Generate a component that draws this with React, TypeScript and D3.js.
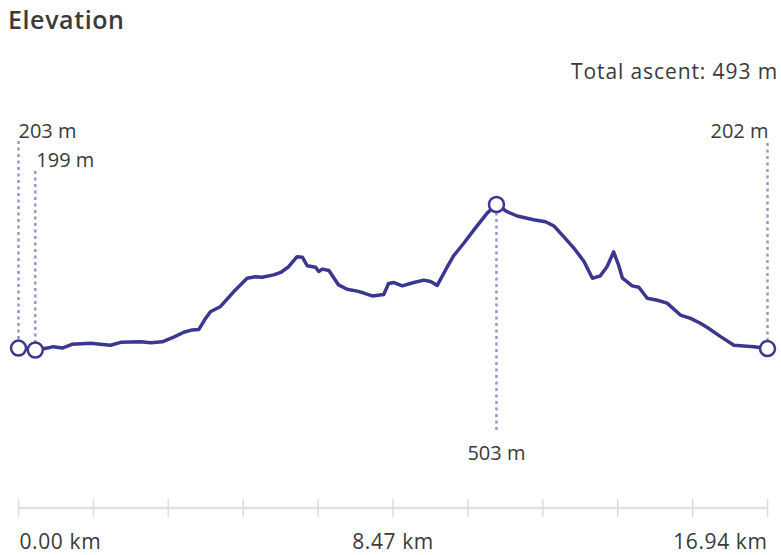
import { useRef, useEffect } from 'react';
import * as d3 from 'd3';

// elevation profile
const distanceKm = [
  0, 0.38, 0.65, 0.79, 0.99, 1.21, 1.63, 2.08, 2.31, 2.76, 2.99, 3.25, 3.51, 3.74, 3.93, 4.08,
  4.23, 4.34, 4.57, 4.87, 4.98, 5.17, 5.36, 5.51, 5.77, 5.93, 6.11, 6.3, 6.42, 6.53, 6.72, 6.79,
  6.87, 7.02, 7.24, 7.43, 7.66, 7.81, 8.0, 8.26, 8.37, 8.49, 8.68, 8.94, 9.17, 9.32, 9.47, 9.7,
  9.85, 10.07, 10.3, 10.6, 10.81, 11.05, 11.28, 11.65, 11.92, 12.11, 12.33, 12.56, 12.79, 12.98,
  13.16, 13.31, 13.46, 13.57, 13.66, 13.76, 13.88, 14.03, 14.22, 14.45, 14.67, 14.97, 15.2,
  15.42, 15.58, 15.88, 16.18, 16.63, 16.94,
];
const elevationM = [
  203, 199, 203, 206, 203, 211, 213, 209, 215, 216, 214, 216, 226, 236, 241, 242,
  265, 279, 290, 321, 331, 349, 352, 351, 356, 361, 373, 394, 393, 375, 372, 363,
  368, 365, 335, 326, 322, 318, 312, 315, 338, 340, 333, 340, 345, 342, 334, 373,
  397, 422, 450, 485, 503, 488, 479, 471, 467, 458, 436, 412, 384, 349,
  354, 373, 404, 377, 349, 342, 333, 330, 307, 303, 297, 272, 265,
  255, 246, 227, 209, 206, 202,
];
const totalAscentM = 493;
const axisLabelKm = ['0.00', '8.47', '16.94'];
const axisTickCount = 11;

const W = 781;
const H = 555;
const LINE = '#3b3790';
const DOT = '#9a96cc';
const TEXT = '#3a3a3a';
const FONT = "'Open Sans', sans-serif";

const App = () => {
  const svgRef = useRef<SVGSVGElement>(null);

  useEffect(() => {
    if (!svgRef.current) return;
    const svg = d3.select(svgRef.current);
    svg.selectAll('*').remove();

    const x = d3.scaleLinear().domain([0, d3.max(distanceKm)!]).range([18.5, 767.5]);
    const y = d3
      .scaleLinear()
      .domain([d3.min(elevationM)!, d3.max(elevationM)!])
      .range([350, 204.5]);

    const pts = distanceKm.map((d, i) => ({ d, e: elevationM[i] }));

    svg
      .append('text')
      .attr('x', 8)
      .attr('y', 29)
      .attr('font-family', FONT)
      .attr('font-weight', 600)
      .attr('font-size', 25)
      .attr('letter-spacing', 0.6)
      .attr('fill', TEXT)
      .text('Elevation');

    svg
      .append('text')
      .attr('x', 778)
      .attr('y', 79)
      .attr('text-anchor', 'end')
      .attr('font-family', FONT)
      .attr('font-size', 21)
      .attr('letter-spacing', 0.9)
      .attr('fill', TEXT)
      .text(`Total ascent: ${totalAscentM} m`);

    // markers: start, lowest, highest, end
    const iMin = d3.minIndex(elevationM);
    const iMax = d3.maxIndex(elevationM);
    const markers = [
      { i: 0, labelY: 138, lineTop: 141, anchor: 'start', dx: 0, below: false },
      { i: iMin, labelY: 167, lineTop: 171, anchor: 'start', dx: 1, below: false },
      { i: distanceKm.length - 1, labelY: 138, lineTop: 143, anchor: 'end', dx: 1, below: false },
      { i: iMax, labelY: 460, lineTop: 432, anchor: 'middle', dx: 0, below: true },
    ];

    const mg = svg.append('g');
    markers.forEach((m) => {
      const px = x(distanceKm[m.i]);
      const py = y(elevationM[m.i]);
      mg.append('line')
        .attr('x1', px)
        .attr('x2', px)
        .attr('y1', m.below ? py + 8 : m.lineTop)
        .attr('y2', m.below ? m.lineTop : py - 8)
        .attr('stroke', DOT)
        .attr('stroke-width', 2.5)
        .attr('stroke-dasharray', '3 3.5');
      mg.append('text')
        .attr('x', px + m.dx)
        .attr('y', m.labelY)
        .attr('text-anchor', m.anchor)
        .attr('font-family', FONT)
        .attr('font-size', 20)
        .attr('fill', TEXT)
        .text(`${elevationM[m.i]} m`);
    });

    svg
      .append('path')
      .datum(pts)
      .attr('fill', 'none')
      .attr('stroke', LINE)
      .attr('stroke-width', 3.5)
      .attr('stroke-linejoin', 'round')
      .attr('d', d3.line<{ d: number; e: number }>().x((p) => x(p.d)).y((p) => y(p.e)));

    markers.forEach((m) => {
      svg
        .append('circle')
        .attr('cx', x(distanceKm[m.i]))
        .attr('cy', y(elevationM[m.i]))
        .attr('r', 7.5)
        .attr('fill', '#fff')
        .attr('stroke', LINE)
        .attr('stroke-width', 2.5);
    });

    // distance axis
    const ag = svg.append('g');
    const ticks = d3.range(axisTickCount).map((k) => (k * d3.max(distanceKm)!) / (axisTickCount - 1));
    ag.append('line')
      .attr('x1', x(0))
      .attr('x2', x(d3.max(distanceKm)!))
      .attr('y1', 508)
      .attr('y2', 508)
      .attr('stroke', '#e2e0de')
      .attr('stroke-width', 2.5);
    ag.selectAll('line.tick')
      .data(ticks)
      .enter()
      .append('line')
      .attr('class', 'tick')
      .attr('x1', (t) => x(t))
      .attr('x2', (t) => x(t))
      .attr('y1', 499)
      .attr('y2', 517)
      .attr('stroke', '#dedcda')
      .attr('stroke-width', 1.5);
    const anchors = ['start', 'middle', 'end'];
    axisLabelKm.forEach((lab, k) => {
      ag.append('text')
        .attr('x', x(+lab) + (k === 0 ? 1 : 0))
        .attr('y', 549)
        .attr('text-anchor', anchors[k])
        .attr('font-family', FONT)
        .attr('font-size', 21)
        .attr('letter-spacing', 0.6)
        .attr('fill', TEXT)
        .text(`${lab} km`);
    });
  }, []);

  return (
    <svg
      ref={svgRef}
      width={W}
      height={H}
      viewBox={`0 0 ${W} ${H}`}
      style={{ position: 'absolute', left: 0, top: 0, background: '#fff' }}
    />
  );
};

export default App;
